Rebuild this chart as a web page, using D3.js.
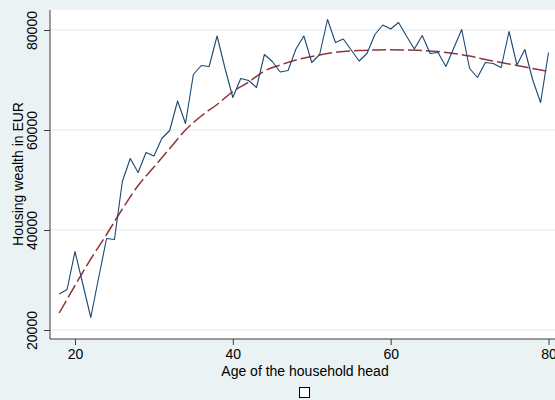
<!DOCTYPE html>
<html>
<head>
<meta charset="utf-8">
<script src="https://cdn.jsdelivr.net/npm/d3@7"></script>
<style>
  body { margin: 0; background: #eaf2f3; }
  svg { display: block; font-family: "Liberation Sans", Arial, sans-serif; }
  .axis path, .axis line { stroke: #3c3c3c; }
  .axis text { fill: #000; font-size: 14px; }
</style>
</head>
<body>
<div id="chart"></div>
<script>
// ages of the household head
var ages = [18, 19, 20, 21, 22, 23, 24, 25, 26, 27, 28, 29, 30, 31, 32, 33, 34, 35, 36, 37,
            38, 39, 40, 41, 42, 43, 44, 45, 46, 47, 48, 49, 50, 51, 52, 53, 54, 55, 56, 57,
            58, 59, 60, 61, 62, 63, 64, 65, 66, 67, 68, 69, 70, 71, 72, 73, 74, 75, 76, 77,
            78, 79, 80];

// mean housing wealth by age (EUR)
var wealth = [27200, 28100, 35700, 29100, 22500, 30500, 38300, 38100, 49700, 54300,
              51500, 55500, 54800, 58300, 59900, 65800, 61300, 71100, 72900, 72700,
              78800, 72400, 66500, 70300, 69900, 68500, 75100, 73700, 71600, 71900,
              76200, 78800, 73500, 75100, 82100, 77500, 78200, 76000, 73800, 75300,
              79100, 81000, 80200, 81500, 78800, 76200, 78900, 75300, 75500, 72700,
              76400, 80100, 72300, 70500, 73500, 73300, 72500, 79700, 73000, 76100,
              70000, 65500, 75500];

// fitted curve, read at selected ages
var fitAges = [18, 20, 22, 24, 26, 28, 30, 32, 34, 36, 38, 40, 42, 44, 46, 48, 50,
               52, 54, 56, 58, 60, 62, 64, 66, 68, 70, 72, 74, 76, 78, 80];
var fitted = [23400, 28900, 34200, 39100, 44200, 48900, 52600, 56300, 60000, 62800,
              65100, 67700, 69600, 71800, 73000, 74000, 74700, 75300, 75700, 75900,
              76000, 76050, 76000, 75900, 75700, 75300, 74800, 74100, 73500, 72900,
              72300, 71700];

var xTicks = [20, 40, 60, 80];
var yTicks = [20000, 40000, 60000, 80000];

var width = 555, height = 400;
var plot = {left: 50, top: 10, right: 555, bottom: 339};

var svg = d3.select("#chart").append("svg")
    .attr("width", width)
    .attr("height", height);

svg.append("rect")
    .attr("width", width).attr("height", height)
    .attr("fill", "#eaf2f3");

// white plot region
svg.append("rect")
    .attr("x", plot.left).attr("y", plot.top)
    .attr("width", plot.right - plot.left)
    .attr("height", plot.bottom - plot.top)
    .attr("fill", "#fff");

var x = d3.scaleLinear().domain([20, 80]).range([75, 548.5]);
var y = d3.scaleLinear().domain([20000, 80000]).range([330, 30]);

// y grid
svg.append("g")
    .selectAll("line")
    .data(yTicks)
    .join("line")
    .attr("x1", plot.left).attr("x2", plot.right)
    .attr("y1", function(d) { return y(d); })
    .attr("y2", function(d) { return y(d); })
    .attr("stroke", "#eaf2f3")
    .attr("stroke-width", 1.5);

// fitted line
var fitLine = d3.line()
    .x(function(d, i) { return x(fitAges[i]); })
    .y(function(d) { return y(d); })
    .curve(d3.curveMonotoneX);

svg.append("path")
    .datum(fitted)
    .attr("fill", "none")
    .attr("stroke", "#90353b")
    .attr("stroke-width", 1.5)
    .attr("stroke-dasharray", "14,4")
    .attr("d", fitLine);

// observed line
var valueLine = d3.line()
    .x(function(d, i) { return x(ages[i]); })
    .y(function(d) { return y(d); });

svg.append("path")
    .datum(wealth)
    .attr("fill", "none")
    .attr("stroke", "#1a476f")
    .attr("stroke-width", 1.1)
    .attr("stroke-linejoin", "round")
    .attr("d", valueLine);

// x axis
var xAxis = svg.append("g")
    .attr("class", "axis")
    .attr("transform", "translate(0," + plot.bottom + ")")
    .call(d3.axisBottom(x).tickValues(xTicks).tickSize(6).tickPadding(4).tickSizeOuter(0));
xAxis.select(".domain").attr("d", "M" + plot.left + ",0H" + plot.right);

// y axis
var yAxis = svg.append("g")
    .attr("class", "axis")
    .attr("transform", "translate(" + plot.left + ",0)")
    .call(d3.axisLeft(y).tickValues(yTicks).tickSize(6).tickFormat(d3.format("d")).tickSizeOuter(0));
yAxis.select(".domain").attr("d", "M0," + plot.top + "V" + plot.bottom);
yAxis.selectAll("text")
    .attr("text-anchor", "middle")
    .attr("x", 0).attr("dy", 0)
    .attr("transform", "translate(-13,0) rotate(-90)");

// axis titles
svg.append("text")
    .attr("x", 305).attr("y", 376)
    .attr("text-anchor", "middle")
    .style("font-size", "14px")
    .text("Age of the household head");

svg.append("text")
    .attr("transform", "translate(23,174) rotate(-90)")
    .attr("text-anchor", "middle")
    .style("font-size", "14px")
    .text("Housing wealth in EUR");

// empty legend key
svg.append("rect")
    .attr("x", 299.5).attr("y", 387.5)
    .attr("width", 10).attr("height", 10)
    .attr("fill", "#fff")
    .attr("stroke", "#000")
    .attr("stroke-width", 1);
</script>
</body>
</html>
